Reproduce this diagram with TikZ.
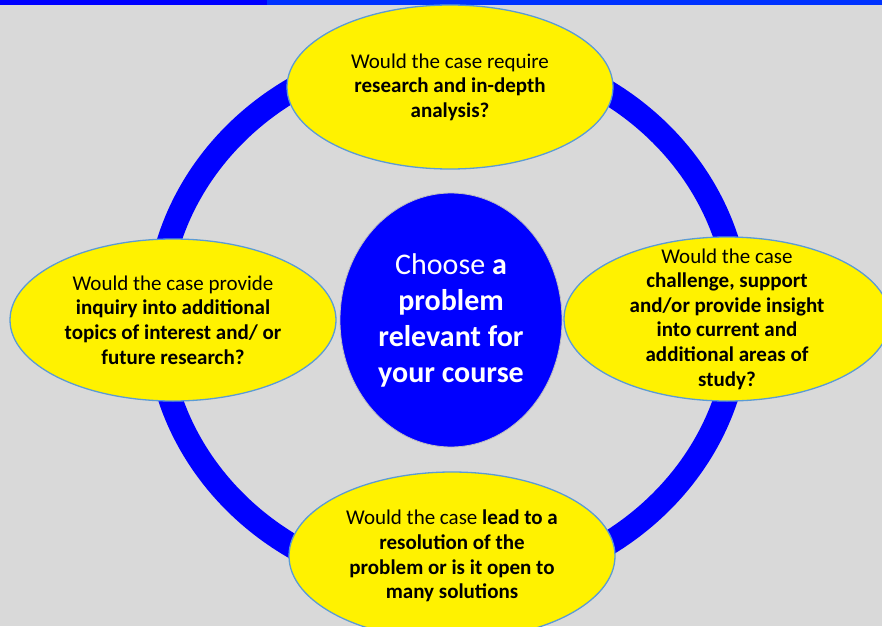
\documentclass[tikz,border=0pt]{standalone}
\usepackage{fontspec}
\setmainfont{Carlito}
\usetikzlibrary{shapes.geometric}
\definecolor{bggray}{RGB}{217,217,217}
\definecolor{ringblue}{RGB}{0,0,255}
\definecolor{barblue}{RGB}{0,51,255}
\definecolor{edgeblue}{RGB}{91,155,213}

\begin{document}
\begin{tikzpicture}[
  x=1pt, y=-1pt,
  qn/.style={ellipse, draw=edgeblue, line width=1.3pt, fill=yellow, inner xsep=0pt,
             inner ysep=-20pt, minimum width=326pt, minimum height=164pt,
             align=center, font=\fontsize{21}{24.6}\selectfont},
  hub/.style={ellipse, draw=black!25, line width=0.8pt, fill=ringblue, text=white,
              inner sep=0pt, minimum width=222pt, minimum height=254pt,
              align=center, font=\fontsize{30}{36}\selectfont}
]
\clip (0,0) rectangle (882,626);
\fill[bggray] (0,0) rectangle (882,626);
% top strip
\fill[ringblue] (0,0) rectangle (267,5);
\fill[barblue] (267,0) rectangle (882,5);
% ring
\draw[ringblue, line width=24pt] (448,318) ellipse [x radius=291pt, y radius=270pt];
% questions
\node[qn] (res) at (450,87) {Would the case require\\ \textbf{research and in-depth}\\ \textbf{analysis?}};
\node[qn, minimum height=162pt] (inq) at (173,320) {Would the case provide\\ \textbf{inquiry into additional}\\ \textbf{topics of interest and/ or}\\ \textbf{future research?}};
\node[qn] (ins) at (727,319) {Would the case\\ \textbf{challenge, support}\\ \textbf{and/or provide insight}\\ \textbf{into current and}\\ \textbf{additional areas of}\\ \textbf{study?}};
\node[qn, minimum height=168pt] (sol) at (452,556) {Would the case \textbf{lead to a}\\ \textbf{resolution of the}\\ \textbf{problem or is it open to}\\ \textbf{many solutions}};
\node[hub] (prob) at (451,320) {Choose \textbf{a}\\ \textbf{problem}\\ \textbf{relevant for}\\ \textbf{your course}};
\end{tikzpicture}
\end{document}
